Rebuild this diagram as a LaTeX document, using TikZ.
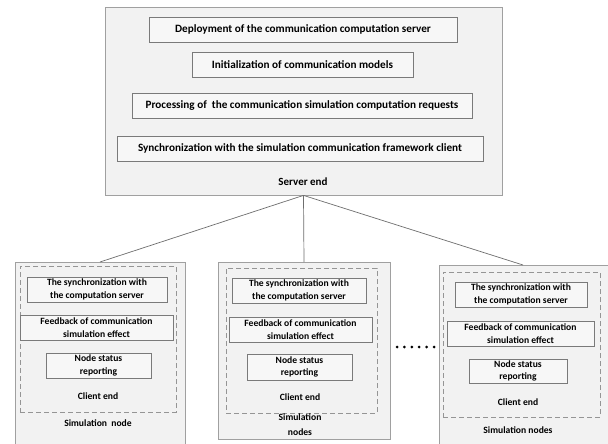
\documentclass[tikz,border=0pt]{standalone}
\usepackage{fontspec}
\setmainfont{Carlito}
\usetikzlibrary{calc}
\definecolor{panelfill}{HTML}{F2F2F2}
\definecolor{panelline}{HTML}{A0A0A0}
\definecolor{boxline}{HTML}{7A7A7A}
\definecolor{boxfill}{HTML}{F7F7F7}
\definecolor{wireline}{HTML}{6E6E6E}
\tikzset{
  panel/.style={draw=panelline, fill=panelfill, line width=0.8pt, inner sep=0pt},
  stepbox/.style={draw=boxline, fill=boxfill, line width=0.9pt, inner sep=0pt,
    font=\bfseries\fontsize{11.2}{13}\selectfont, align=center},
  smallbox/.style={stepbox, font=\bfseries\fontsize{9.6}{12.8}\selectfont},
  clientbox/.style={draw=boxline!80, dashed, dash pattern=on 5pt off 3pt, line width=0.8pt, inner sep=0pt},
  caption/.style={font=\bfseries\fontsize{11}{13}\selectfont, align=center, inner sep=0pt},
  smallcaption/.style={caption, font=\bfseries\fontsize{9.6}{14.5}\selectfont},
  wire/.style={draw=wireline, line width=0.7pt},
}
\newcommand{\boxat}[7][stepbox]{% style, name, x1, y1, x2, y2, text
  \node[#1, minimum width={#5-#3}, minimum height={#6-#4}] (#2) at ({(#3+#5)/2},{(#4+#6)/2}) {#7};}
\begin{document}
\begin{tikzpicture}[x=1pt, y=-1pt]
\useasboundingbox (0,0) rectangle (608,444);
\clip (0,0) rectangle (608,444);
\fill[white] (0,0) rectangle (608,444);

% server end
\node[panel, minimum width=397pt, minimum height=188pt] (server) at (303.5,101) {};
\boxat{deploy}{149}{17}{457}{42}{Deployment of the communication computation server}
\boxat{init}{192}{52}{413}{77}{Initialization of communication models}
\boxat{proc}{132}{93}{472}{118}{Processing of\ \ the communication simulation computation requests}
\boxat{sync}{117}{136}{483}{161}{Synchronization with the simulation communication framework client}
\node[caption] (servercap) at (303,182) {Server end};

% simulation node panels
\node[panel, minimum width=170pt, minimum height=200pt, anchor=north] (nodeA) at (100,262) {};
\node[panel, minimum width=172pt, minimum height=177pt, anchor=north] (nodeB) at (304,262) {};
\node[panel, minimum width=181pt, minimum height=200pt, anchor=north west] (nodeC) at (439,265) {};

% connectors from the server
\coordinate (hub) at (server.south);
\draw[wire] (hub) -- (nodeA.north);
\draw[wire] (hub) -- (nodeB.north);
\draw[wire] (hub) -- ([xshift=84pt]nodeC.north west);

% client ends
\node[clientbox, minimum width=156pt, minimum height=146pt] (clientA) at (98,339) {};
\node[clientbox, minimum width=151pt, minimum height=145pt] (clientB) at (301.5,340.5) {};
\node[clientbox, minimum width=157pt, minimum height=145pt] (clientC) at (521.5,344.5) {};

\boxat[smallbox]{syncA}{27}{277}{167}{302}{The synchronization with\\the computation server}
\boxat[smallbox]{feedA}{20}{315}{173}{340}{Feedback of communication\\simulation effect}
\boxat[smallbox]{statA}{46}{353}{151}{378}{Node status\\reporting}
\node[smallcaption] (clientcapA) at (98,396) {Client end};
\node[smallcaption] (simcapA) at (98,423) {Simulation\ \ node};

\boxat[smallbox]{syncB}{232}{278}{366}{303}{The synchronization with\\the computation server}
\boxat[smallbox]{feedB}{229}{317}{372}{342}{Feedback of communication\\simulation effect}
\boxat[smallbox]{statB}{247}{354}{352}{380}{Node status\\reporting}
\node[smallcaption] (clientcapB) at (300,397) {Client end};
\node[smallcaption] (simcapB) at (300,424.5) {Simulation\\nodes};

\boxat[smallbox]{syncC}{455}{282}{587}{307}{The synchronization with\\the computation server}
\boxat[smallbox]{feedC}{447}{321}{594}{346}{Feedback of communication\\simulation effect}
\boxat[smallbox]{statC}{469}{359}{567}{383}{Node status\\reporting}
\node[smallcaption] (clientcapC) at (518,402) {Client end};
\node[smallcaption] (simcapC) at (518,430) {Simulation nodes};

% ellipsis between the node panels
\foreach \i in {0,...,5}
  \fill[black] ({397+\i*7.4},347) circle (1.5pt);
\end{tikzpicture}
\end{document}
